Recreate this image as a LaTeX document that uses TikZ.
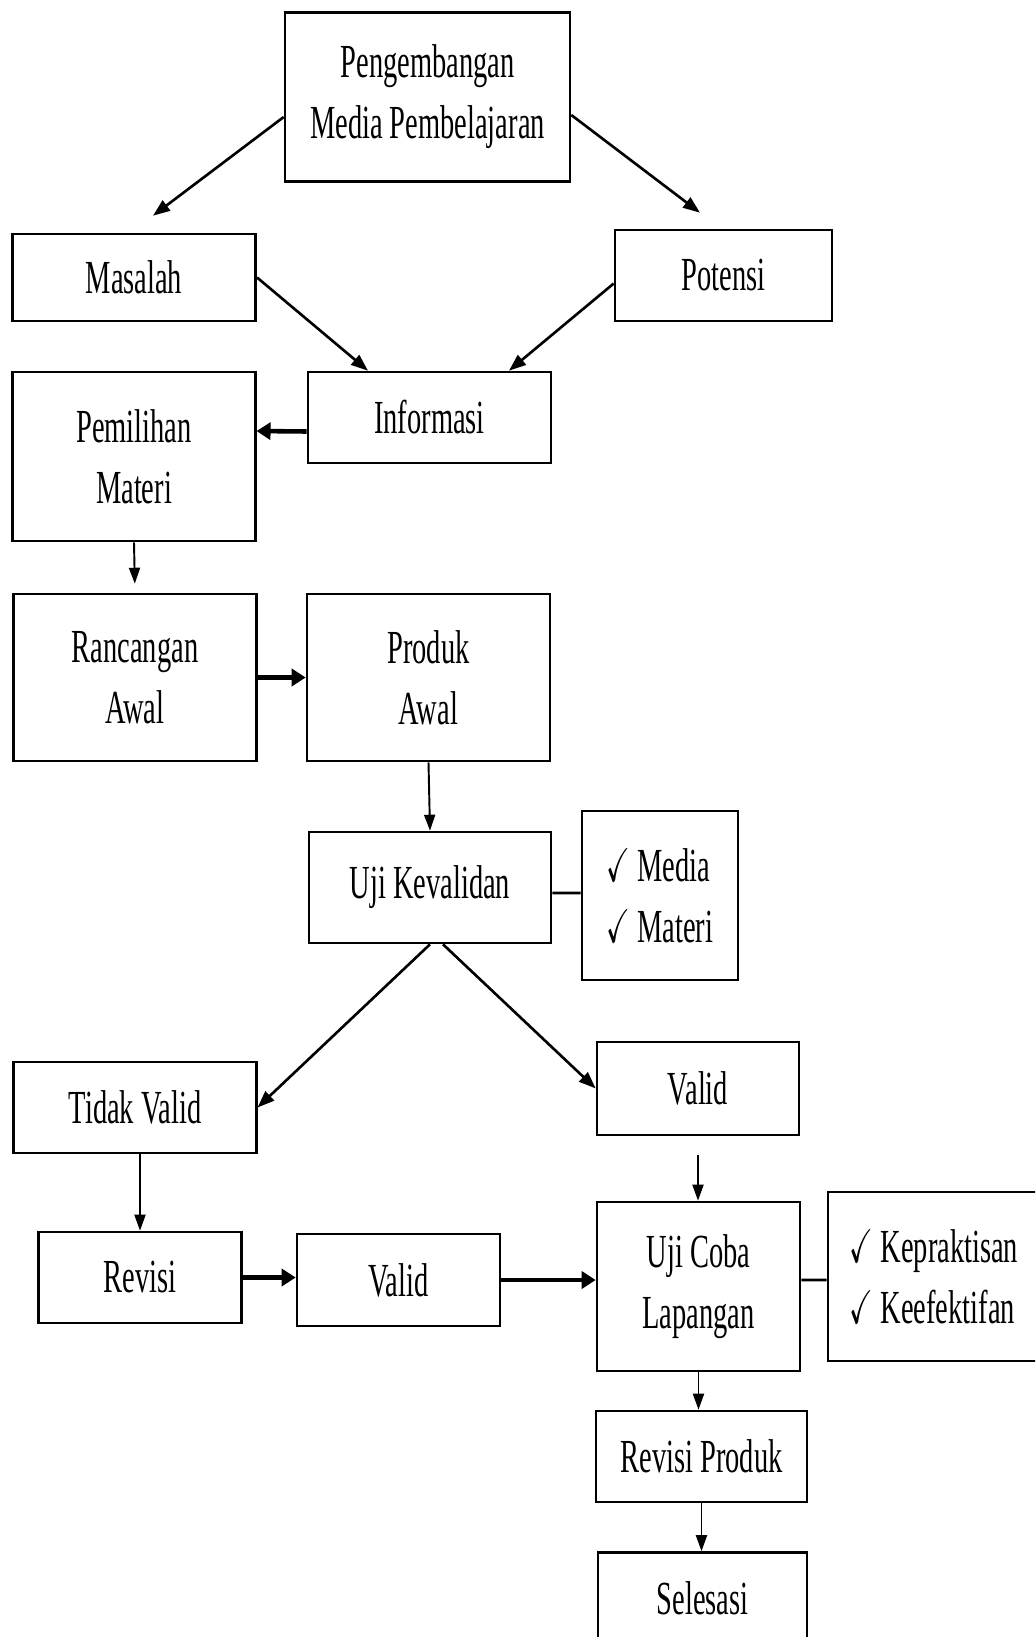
\documentclass[tikz,border=0pt]{standalone}
\usepackage{fontspec}
\setmainfont{Liberation Serif}[FakeStretch=0.6]
\usepackage{amssymb}
\usepackage{tikz}
\usetikzlibrary{arrows.meta}

\tikzset{
  box/.style={draw, line width=1.5pt, inner sep=0pt, align=center, font=\fontsize{27}{34.7}\selectfont},
  listbox/.style={box, align=left},
  arr/.style={line width=1.5pt, -{Triangle[length=0.34cm,width=0.25cm]}},
  thickarr/.style={line width=2.6pt, -{Triangle[length=0.28cm,width=0.34cm]}},
  thinarr/.style={line width=1.1pt, -{Triangle[length=0.32cm,width=0.22cm]}},
  link/.style={line width=1.5pt}
}
\newcommand{\cek}{\scalebox{0.6}[1]{$\checkmark$}}

\begin{document}
\begin{tikzpicture}[x=0.02cm,y=-0.02cm]
\useasboundingbox (0,0) rectangle (1035,1637);
\clip (0,0) rectangle (1035,1637);

	\node[box, minimum width=5.70cm, minimum height=3.37cm] (pengembangan) at (427.5,97) {Pengembangan\\Media Pembelajaran};
	\node[box, minimum width=4.87cm, minimum height=1.74cm] (masalah) at (134,277.5) {Masalah};
	\node[box, minimum width=4.34cm, minimum height=1.82cm] (potensi) at (723.5,275.5) {Potensi};
	\node[box, minimum width=4.86cm, minimum height=1.82cm] (informasi) at (429.5,417.5) {Informasi};
	\node[box, minimum width=4.85cm, minimum height=3.38cm] (pemilihan) at (134,456.5) {Pemilihan\\Materi};
	\node[box, minimum width=4.85cm, minimum height=3.34cm] (rancangan) at (135,677.5) {Rancangan\\Awal};
	\node[box, minimum width=4.86cm, minimum height=3.34cm] (produk) at (428.5,677.5) {Produk\\Awal};
	\node[box, minimum width=4.84cm, minimum height=2.22cm] (ujivalid) at (430,887.5) {Uji Kevalidan};
	\node[listbox, minimum width=3.12cm, minimum height=3.38cm] (aspekvalid) at (660,895.5) {\cek\ Media\\\cek\ Materi};
	\node[box, minimum width=4.85cm, minimum height=1.82cm] (tidakvalid) at (135,1107.5) {Tidak Valid};
	\node[box, minimum width=4.04cm, minimum height=1.86cm] (valid) at (698,1088.5) {Valid};
	\node[box, minimum width=4.06cm, minimum height=1.82cm] (revisi) at (140,1277.5) {Revisi};
	\node[box, minimum width=4.06cm, minimum height=1.84cm] (validrevisi) at (398.5,1280) {Valid};
	\node[box, minimum width=4.06cm, minimum height=3.38cm] (ujicoba) at (698.5,1286.5) {Uji Coba\\Lapangan};
	\node[listbox, minimum width=4.24cm, minimum height=3.38cm] (aspekcoba) at (934,1276.5) {\cek\ Kepraktisan\\\cek\ Keefektifan};
	\node[box, minimum width=4.22cm, minimum height=1.82cm] (revisiproduk) at (701.5,1456.5) {Revisi Produk};
	\node[box, minimum width=4.18cm, minimum height=1.82cm] (selesai) at (702.5,1598) {Selesasi};

	\draw[arr] ([yshift=-0.4cm]pengembangan.west) -- ([xshift=0.38cm,yshift=0.34cm]masalah.north);
	\draw[arr] ([yshift=-0.36cm]pengembangan.east) -- ([xshift=-0.47cm,yshift=0.32cm]potensi.north);
	\draw[arr] (masalah.east) -- ([xshift=-1.23cm]informasi.north);
	\draw[arr] ([yshift=-0.16cm]potensi.west) -- ([xshift=1.59cm]informasi.north);
	\draw[thickarr] ([yshift=-0.28cm]informasi.west) -- ([yshift=0.51cm]pemilihan.east);
	\draw[thinarr, shorten >=0.18cm] (pemilihan.south) -- (rancangan.north);
	\draw[thickarr] (rancangan.east) -- (produk.west);
	\draw[thinarr] (produk.south) -- (ujivalid.north);
	\draw[link] ([yshift=-0.11cm]ujivalid.east) -- ([yshift=0.05cm]aspekvalid.west);
	\draw[arr] (ujivalid.south) -- (tidakvalid.east);
	\draw[arr] ([xshift=0.26cm]ujivalid.south) -- (valid.west);
	\draw[thinarr] (tidakvalid.south -| revisi.north) -- (revisi.north);
	\draw[thickarr] (revisi.east) -- (revisi.east -| validrevisi.west);
	\draw[thickarr] (validrevisi.east) -- (validrevisi.east -| ujicoba.west);
	\draw[thinarr, shorten <=0.38cm] (valid.south) -- (valid.south |- ujicoba.north);
	\draw[link] ([yshift=0.13cm]ujicoba.east) -- ([yshift=-0.07cm]aspekcoba.west);
	\draw[thinarr] (ujicoba.south) -- (ujicoba.south |- revisiproduk.north);
	\draw[thinarr] (revisiproduk.south) -- (revisiproduk.south |- selesai.north);
\end{tikzpicture}
\end{document}
